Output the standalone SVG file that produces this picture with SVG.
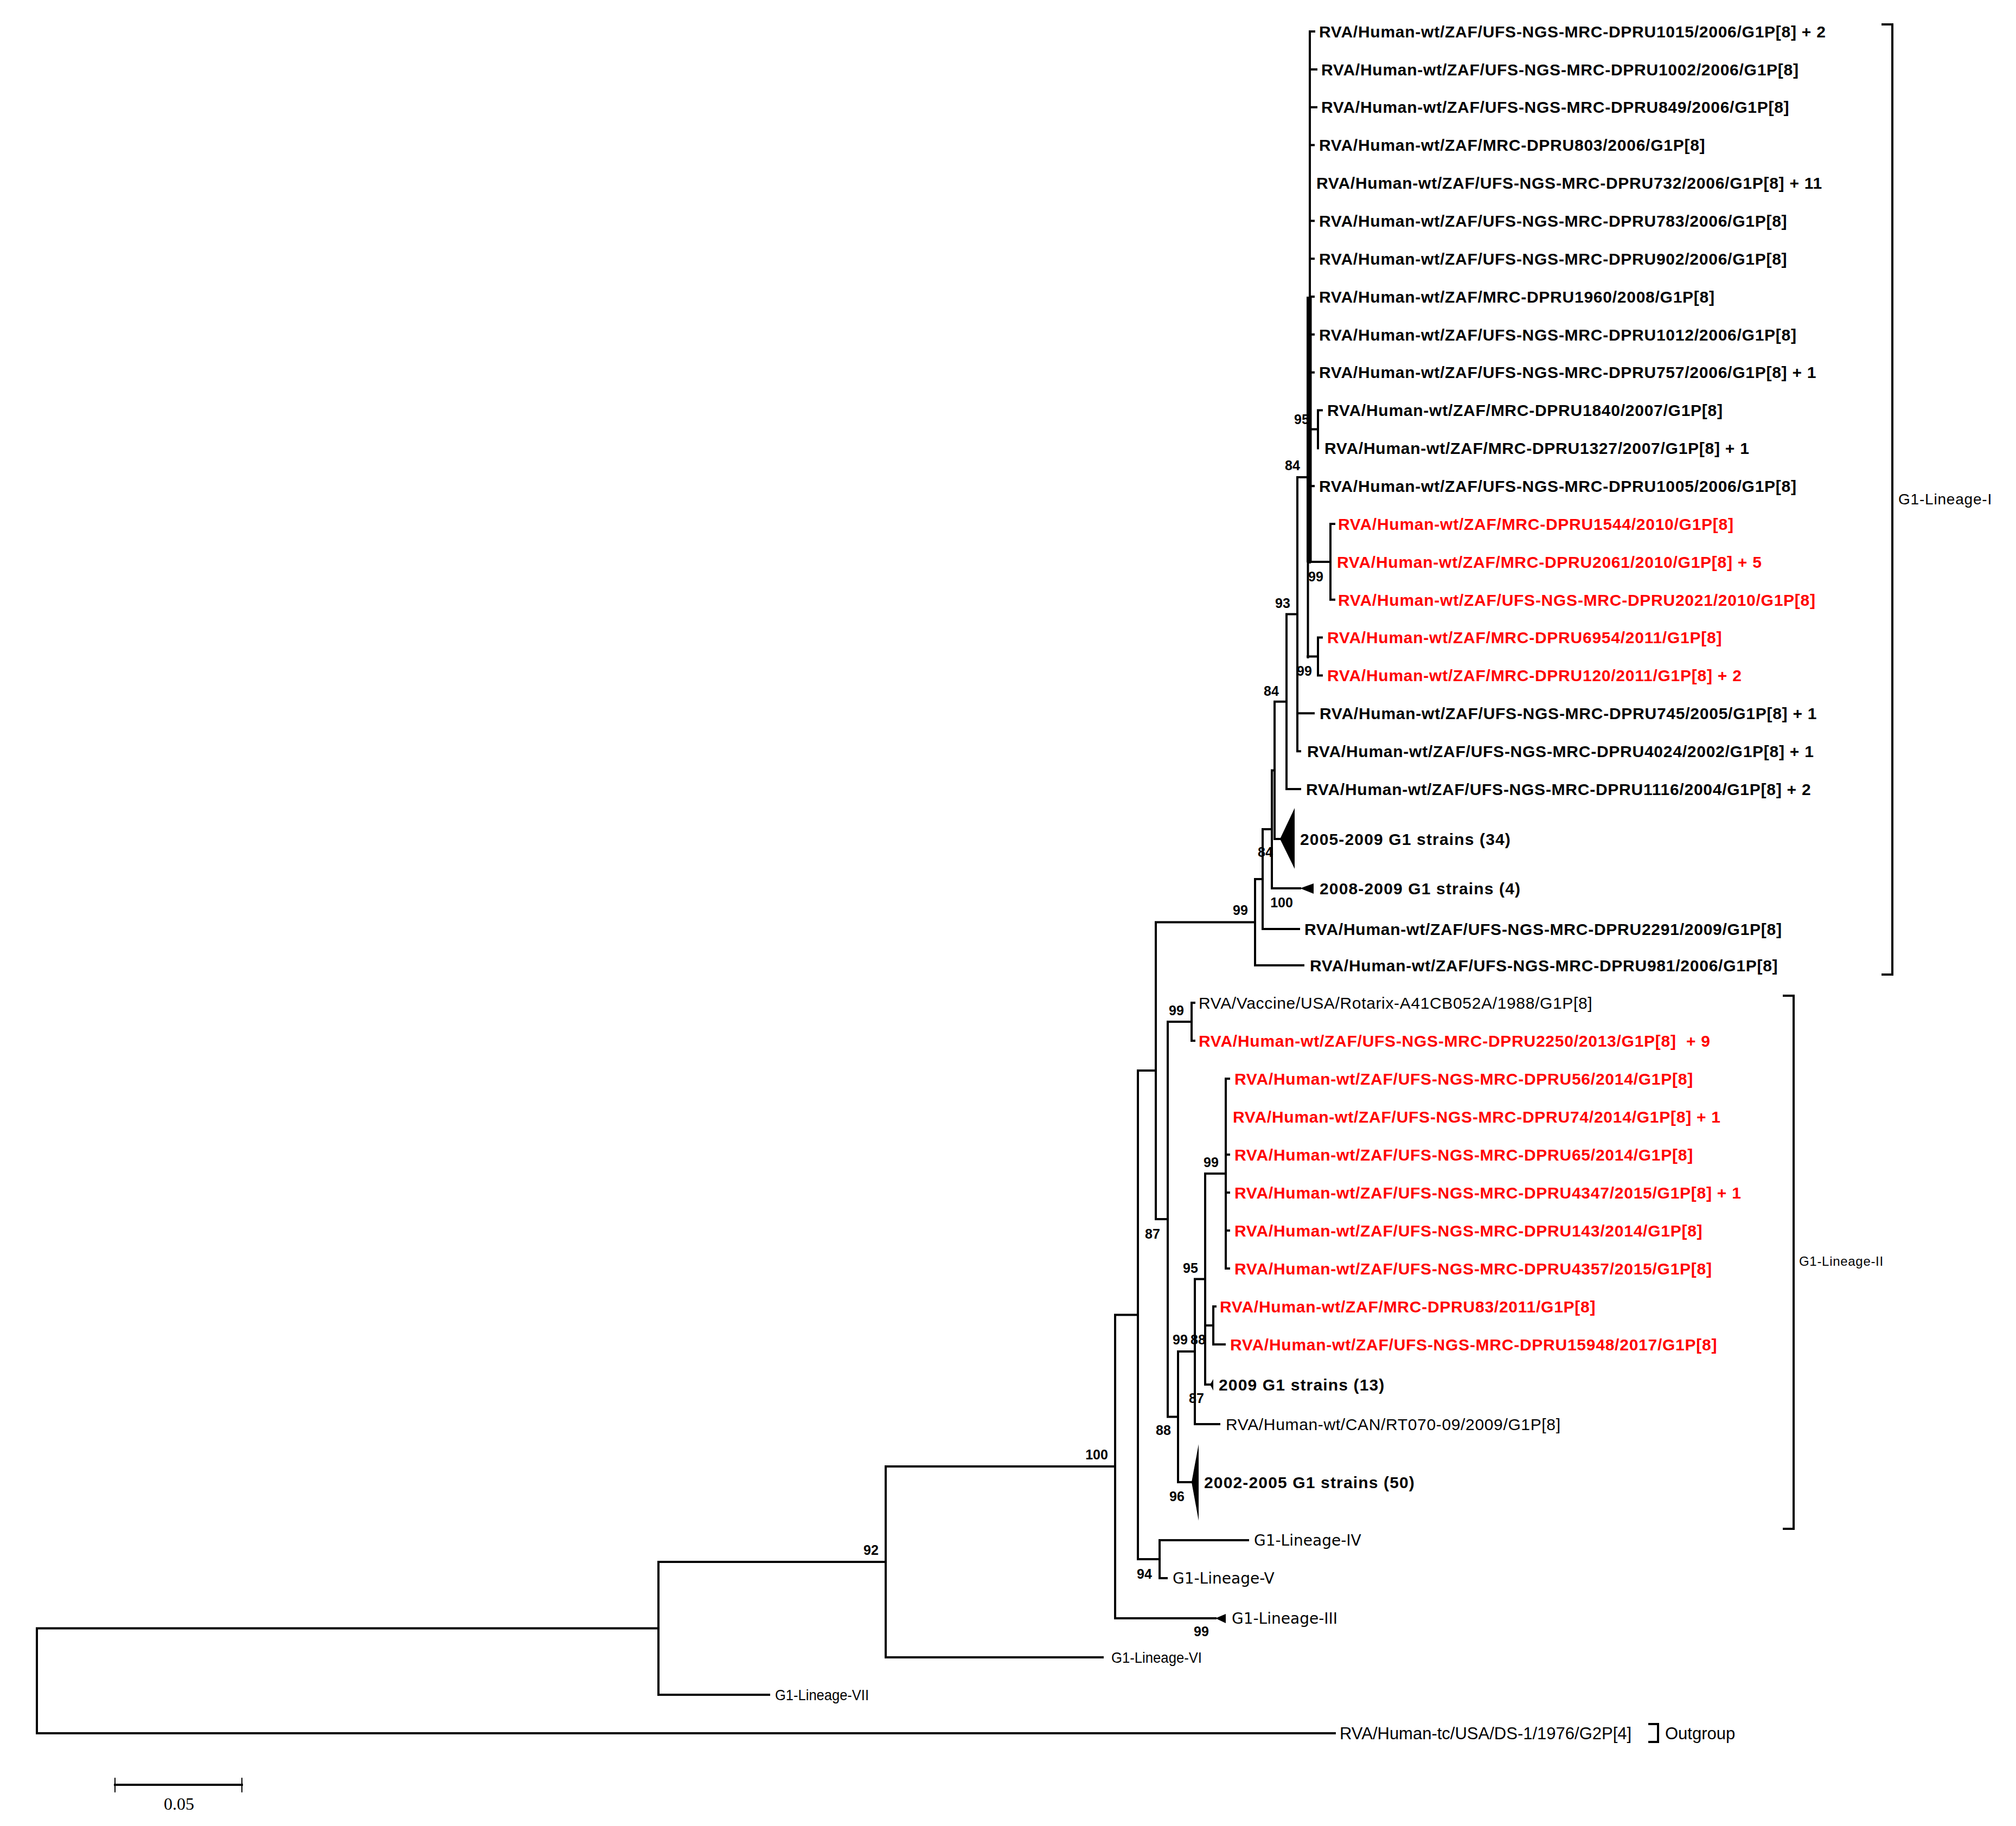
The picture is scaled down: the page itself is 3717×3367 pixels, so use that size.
<svg xmlns="http://www.w3.org/2000/svg" width="3717" height="3367" viewBox="0 0 3717 3367">
<style>
.ln{stroke:#000;stroke-width:4;fill:none;stroke-linecap:square}
.tk{stroke:#000;stroke-width:2;fill:none}
.tri{fill:#000;stroke:none}
.lb{font-family:"Liberation Sans",Arial,sans-serif;font-weight:bold;font-size:30px;letter-spacing:0.75px;fill:#000}
.red{fill:#ff0000}
.nm{font-family:"Liberation Sans",Arial,sans-serif;font-size:30px;letter-spacing:0.65px;fill:#000}
.grp{font-family:"Liberation Sans",Arial,sans-serif;font-weight:bold;font-size:30px;letter-spacing:1.15px;fill:#000}
.lin{font-family:"DejaVu Sans",Verdana,sans-serif;font-size:28px;fill:#000}
.thin{font-family:"Liberation Sans",Arial,sans-serif;font-size:28px;fill:#000}
.og{font-family:"Liberation Sans",Arial,sans-serif;font-size:31px;fill:#000}
.br{font-family:"Liberation Sans",Arial,sans-serif;font-size:28px;letter-spacing:0.8px;fill:#000}
.br2{font-family:"Liberation Sans",Arial,sans-serif;font-size:24px;letter-spacing:0.7px;fill:#000}
.bs{font-family:"Liberation Sans",Arial,sans-serif;font-weight:bold;font-size:25px;text-anchor:middle;fill:#000}
.sc{font-family:"Liberation Serif","Times New Roman",serif;font-size:32px;text-anchor:middle;fill:#000}
</style>
<rect width="3717" height="3367" fill="#fff"/>

<g id="connectors">
<path class="ln" d="M68 3002.5V3196M68 3002.5H1214M68 3196H2461"/>
<path class="ln" d="M1214 2880V3125M1214 2880H1633M1214 3125H1418"/>
<path class="ln" d="M1633 2704V3056M1633 2704H2056M1633 3056H2033"/>
<path class="ln" d="M2056 2424.5V2984M2056 2424.5H2098M2056 2984H2241"/>
<path class="ln" d="M2098 1974V2875M2098 1974H2131M2098 2875H2138"/>
<path class="ln" d="M2138 2840V2910M2138 2840H2301M2138 2910H2151"/>
<path class="ln" d="M2131 1700.5V2248M2131 1700.5H2314M2131 2248H2153"/>
<path class="ln" d="M2153 1884V2612.5M2153 1884H2197M2153 2612.5H2172"/>
<path class="ln" d="M2197 1849V1919M2197 1849H2202M2197 1919H2202"/>
<path class="ln" d="M2172 2492V2733M2172 2492H2203M2172 2733H2197"/>
<path class="ln" d="M2203 2358.5V2626M2203 2358.5H2222M2203 2626H2248"/>
<path class="ln" d="M2222 2164V2553M2222 2164H2260M2222 2444H2237M2222 2553H2231"/>
<path class="ln" d="M2260 1989V2339M2260 1989H2266M2260 2129H2266M2260 2199H2266M2260 2269H2266M2260 2339H2266"/>
<path class="ln" d="M2237 2409V2479M2237 2409H2241M2237 2479H2258"/>
<path class="ln" d="M2314 1621V1780M2314 1621H2328M2314 1780H2403"/>
<path class="ln" d="M2328 1529V1713M2328 1529H2345M2328 1713H2395"/>
<path class="ln" d="M2345 1420.4V1638M2345 1420.4H2350M2345 1638H2397"/>
<path class="ln" d="M2350 1293.8V1547M2350 1293.8H2372M2350 1547H2360"/>
<path class="ln" d="M2372 1132.6V1455M2372 1132.6H2392M2372 1455H2397"/>
<path class="ln" d="M2392 880V1385.2M2392 880H2411M2392 1315.3H2422M2392 1385.2H2397"/>
<path class="ln" d="M2415 58V1037M2411.5 1037V1212"/>
<rect x="2409" y="547" width="9.5" height="490" fill="#000"/>
<path class="ln" d="M2415 58H2423M2415 127.9H2427M2415 197.7H2427M2415 267.6H2422M2415 407.3H2422M2415 477.1H2422M2415 547H2422M2415 616.8H2422M2415 686.7H2422M2415 896.2H2422"/>
<path class="ln" d="M2430 756.5V826.4M2415 791.5H2430M2430 756.5H2437"/>
<path class="ln" d="M2453 966.1V1105.8M2415 1036H2453M2453 966.1H2460M2453 1105.8H2460"/>
<path class="ln" d="M2430 1175.6V1245.5M2411 1210.5H2430M2430 1175.6H2437M2430 1245.5H2437"/>
</g>

<g id="brackets">
<path class="ln" d="M3471 45H3489V1797H3471"/>
<path class="ln" d="M3289 1836H3307V2819H3289"/>
<path class="ln" d="M3041 3179H3057V3212H3041"/>
</g>

<g id="bootstrap">
<text class="bs" x="2400" y="782">95</text>
<text class="bs" x="2383" y="867">84</text>
<text class="bs" x="2426" y="1072">99</text>
<text class="bs" x="2365" y="1121">93</text>
<text class="bs" x="2405" y="1246">99</text>
<text class="bs" x="2344" y="1283">84</text>
<text class="bs" x="2333" y="1580">84</text>
<text class="bs" x="2363" y="1673">100</text>
<text class="bs" x="2287" y="1687">99</text>
<text class="bs" x="2169" y="1872">99</text>
<text class="bs" x="2233" y="2152">99</text>
<text class="bs" x="2125" y="2284">87</text>
<text class="bs" x="2195" y="2347">95</text>
<text class="bs" x="2176" y="2479">99</text>
<text class="bs" x="2209" y="2479">88</text>
<text class="bs" x="2206" y="2587">87</text>
<text class="bs" x="2145" y="2646">88</text>
<text class="bs" x="2170" y="2768">96</text>
<text class="bs" x="2110" y="2911">94</text>
<text class="bs" x="2215" y="3017">99</text>
<text class="bs" x="2022" y="2691">100</text>
<text class="bs" x="1606" y="2867">92</text>
</g>

<g id="leaf-1"><text class="lb" x="2432" y="69">RVA/Human-wt/ZAF/UFS-NGS-MRC-DPRU1015/2006/G1P[8] + 2</text></g>
<g id="leaf-2"><text class="lb" x="2436" y="139">RVA/Human-wt/ZAF/UFS-NGS-MRC-DPRU1002/2006/G1P[8]</text></g>
<g id="leaf-3"><text class="lb" x="2436" y="208">RVA/Human-wt/ZAF/UFS-NGS-MRC-DPRU849/2006/G1P[8]</text></g>
<g id="leaf-4"><text class="lb" x="2432" y="278">RVA/Human-wt/ZAF/MRC-DPRU803/2006/G1P[8]</text></g>
<g id="leaf-5"><text class="lb" x="2427" y="348">RVA/Human-wt/ZAF/UFS-NGS-MRC-DPRU732/2006/G1P[8] + 11</text></g>
<g id="leaf-6"><text class="lb" x="2432" y="418">RVA/Human-wt/ZAF/UFS-NGS-MRC-DPRU783/2006/G1P[8]</text></g>
<g id="leaf-7"><text class="lb" x="2432" y="488">RVA/Human-wt/ZAF/UFS-NGS-MRC-DPRU902/2006/G1P[8]</text></g>
<g id="leaf-8"><text class="lb" x="2432" y="558">RVA/Human-wt/ZAF/MRC-DPRU1960/2008/G1P[8]</text></g>
<g id="leaf-9"><text class="lb" x="2432" y="628">RVA/Human-wt/ZAF/UFS-NGS-MRC-DPRU1012/2006/G1P[8]</text></g>
<g id="leaf-10"><text class="lb" x="2432" y="697">RVA/Human-wt/ZAF/UFS-NGS-MRC-DPRU757/2006/G1P[8] + 1</text></g>
<g id="leaf-11"><text class="lb" x="2447" y="767">RVA/Human-wt/ZAF/MRC-DPRU1840/2007/G1P[8]</text></g>
<g id="leaf-12"><text class="lb" x="2442" y="837">RVA/Human-wt/ZAF/MRC-DPRU1327/2007/G1P[8] + 1</text></g>
<g id="leaf-13"><text class="lb" x="2432" y="907">RVA/Human-wt/ZAF/UFS-NGS-MRC-DPRU1005/2006/G1P[8]</text></g>
<g id="leaf-14"><text class="lb red" x="2467" y="977">RVA/Human-wt/ZAF/MRC-DPRU1544/2010/G1P[8]</text></g>
<g id="leaf-15"><text class="lb red" x="2465" y="1047">RVA/Human-wt/ZAF/MRC-DPRU2061/2010/G1P[8] + 5</text></g>
<g id="leaf-16"><text class="lb red" x="2467" y="1117">RVA/Human-wt/ZAF/UFS-NGS-MRC-DPRU2021/2010/G1P[8]</text></g>
<g id="leaf-17"><text class="lb red" x="2447" y="1186">RVA/Human-wt/ZAF/MRC-DPRU6954/2011/G1P[8]</text></g>
<g id="leaf-18"><text class="lb red" x="2447" y="1256">RVA/Human-wt/ZAF/MRC-DPRU120/2011/G1P[8] + 2</text></g>
<g id="leaf-19"><text class="lb" x="2433" y="1326">RVA/Human-wt/ZAF/UFS-NGS-MRC-DPRU745/2005/G1P[8] + 1</text></g>
<g id="leaf-20"><text class="lb" x="2410" y="1396">RVA/Human-wt/ZAF/UFS-NGS-MRC-DPRU4024/2002/G1P[8] + 1</text></g>
<g id="leaf-21"><text class="lb" x="2408" y="1466">RVA/Human-wt/ZAF/UFS-NGS-MRC-DPRU1116/2004/G1P[8] + 2</text></g>
<g id="clade-2005-2009"><polygon class="tri" points="2360,1547 2387,1490 2387,1602"/><text class="grp" x="2397" y="1558">2005-2009 G1 strains (34)</text></g>
<g id="clade-2008-2009"><polygon class="tri" points="2397,1638 2422,1629 2422,1648"/><text class="grp" x="2433" y="1649">2008-2009 G1 strains (4)</text></g>
<g id="leaf-24"><text class="lb" x="2405" y="1724">RVA/Human-wt/ZAF/UFS-NGS-MRC-DPRU2291/2009/G1P[8]</text></g>
<g id="leaf-25"><text class="lb" x="2415" y="1791">RVA/Human-wt/ZAF/UFS-NGS-MRC-DPRU981/2006/G1P[8]</text></g>
<g id="leaf-26"><text class="nm" x="2210" y="1860">RVA/Vaccine/USA/Rotarix-A41CB052A/1988/G1P[8]</text></g>
<g id="leaf-27"><text class="lb red" x="2210" y="1930">RVA/Human-wt/ZAF/UFS-NGS-MRC-DPRU2250/2013/G1P[8]&#160; + 9</text></g>
<g id="leaf-28"><text class="lb red" x="2276" y="2000">RVA/Human-wt/ZAF/UFS-NGS-MRC-DPRU56/2014/G1P[8]</text></g>
<g id="leaf-29"><text class="lb red" x="2273" y="2070">RVA/Human-wt/ZAF/UFS-NGS-MRC-DPRU74/2014/G1P[8] + 1</text></g>
<g id="leaf-30"><text class="lb red" x="2276" y="2140">RVA/Human-wt/ZAF/UFS-NGS-MRC-DPRU65/2014/G1P[8]</text></g>
<g id="leaf-31"><text class="lb red" x="2276" y="2210">RVA/Human-wt/ZAF/UFS-NGS-MRC-DPRU4347/2015/G1P[8] + 1</text></g>
<g id="leaf-32"><text class="lb red" x="2276" y="2280">RVA/Human-wt/ZAF/UFS-NGS-MRC-DPRU143/2014/G1P[8]</text></g>
<g id="leaf-33"><text class="lb red" x="2276" y="2350">RVA/Human-wt/ZAF/UFS-NGS-MRC-DPRU4357/2015/G1P[8]</text></g>
<g id="leaf-34"><text class="lb red" x="2249" y="2420">RVA/Human-wt/ZAF/MRC-DPRU83/2011/G1P[8]</text></g>
<g id="leaf-35"><text class="lb red" x="2268" y="2490">RVA/Human-wt/ZAF/UFS-NGS-MRC-DPRU15948/2017/G1P[8]</text></g>
<g id="clade-2009"><polygon class="tri" points="2231,2553 2237,2543 2237,2564"/><text class="grp" x="2247" y="2564">2009 G1 strains (13)</text></g>
<g id="leaf-37"><text class="nm" x="2260" y="2637">RVA/Human-wt/CAN/RT070-09/2009/G1P[8]</text></g>
<g id="clade-2002-2005"><polygon class="tri" points="2197,2733 2210,2663 2210,2804"/><text class="grp" x="2220" y="2744">2002-2005 G1 strains (50)</text></g>
<g id="lineage-IV"><text class="lin" x="2312" y="2850">G1-Lineage-IV</text></g>
<g id="lineage-V"><text class="lin" x="2162" y="2920">G1-Lineage-V</text></g>
<g id="lineage-III"><polygon class="tri" points="2241,2984 2260,2976 2260,2993"/><text class="lin" x="2271" y="2994">G1-Lineage-III</text></g>
<g id="lineage-VI"><text class="thin" x="2049" y="3066" textLength="167" lengthAdjust="spacingAndGlyphs">G1-Lineage-VI</text></g>
<g id="lineage-VII"><text class="thin" x="1429" y="3135" textLength="173" lengthAdjust="spacingAndGlyphs">G1-Lineage-VII</text></g>
<g id="outgroup"><text class="og" x="2470" y="3207">RVA/Human-tc/USA/DS-1/1976/G2P[4]</text><text class="og" x="3070" y="3207">Outgroup</text></g>
<g id="bracket-labels">
<text class="br" x="3500" y="930">G1-Lineage-I</text>
<text class="br2" x="3317" y="2334">G1-Lineage-II</text>
</g>
<g id="scale-bar">
<path class="ln" d="M212 3291H446"/>
<path class="tk" d="M212 3278V3305M446 3278V3305"/>
<text class="sc" x="330" y="3337">0.05</text>
</g>
</svg>
